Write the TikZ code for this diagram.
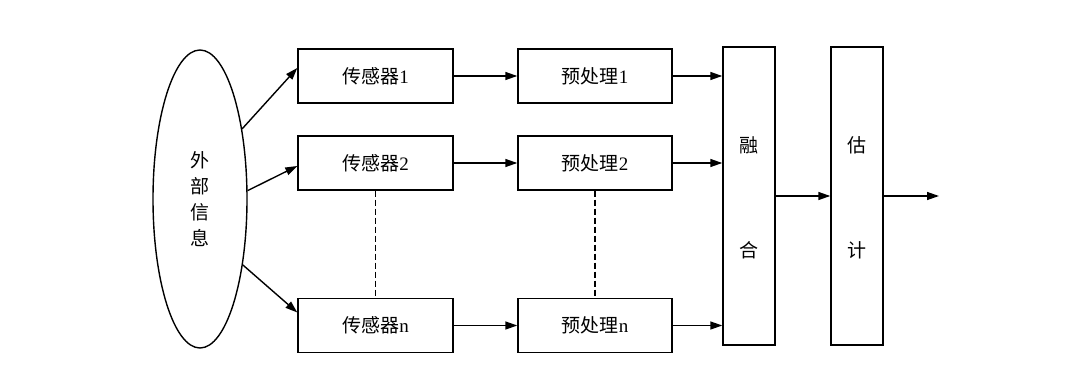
\documentclass[tikz,border=0pt]{standalone}
\usepackage{fontspec}
\setmainfont{Liberation Serif}
\newfontfamily\cjk{Noto Sans CJK SC}
\usetikzlibrary{shapes.geometric,arrows.meta}
\begin{document}
\begin{tikzpicture}[x=1pt,y=1pt,
  every node/.style={font=\fontsize{19}{22}\selectfont},
  blk/.style={draw,line width=1.4pt,minimum width=155pt,minimum height=54pt,inner sep=0pt},
  tall/.style={draw,line width=1.4pt,minimum width=52pt,minimum height=298pt,inner sep=0pt},
  arr/.style={line width=1.4pt,-{Triangle[length=12pt,width=8pt]}},
  dsh/.style={line width=1.2pt,dash pattern=on 6pt off 3pt}]
\useasboundingbox[fill=white] (0,0) rectangle (1080,381);
\node[draw,ellipse,line width=1.4pt,minimum width=94pt,minimum height=298pt,inner sep=0pt,align=center,
  font=\fontsize{19}{26}\selectfont\cjk] (ell) at (200,182) {外\\部\\信\\息};
\node[blk] (s1) at (375.5,305) {{\cjk 传感器}1};
\node[blk] (s2) at (375.5,218) {{\cjk 传感器}2};
\node[blk] (sn) at (375.5,55.5) {{\cjk 传感器}n};
\node[blk,minimum width=154pt] (p1) at (595,305) {{\cjk 预处理}1};
\node[blk,minimum width=154pt] (p2) at (595,218) {{\cjk 预处理}2};
\node[blk,minimum width=154pt] (pn) at (595,55.5) {{\cjk 预处理}n};
\node[tall] (fu) at (749,185) {};
\node[tall] (es) at (857,185) {};
\node[font=\fontsize{19}{22}\selectfont\cjk] (fu1) at ([yshift=51pt]fu.center) {融};
\node[font=\fontsize{19}{22}\selectfont\cjk] (fu2) at ([yshift=-54pt]fu.center) {合};
\node[font=\fontsize{19}{22}\selectfont\cjk] (es1) at ([yshift=51pt]es.center) {估};
\node[font=\fontsize{19}{22}\selectfont\cjk] (es2) at ([yshift=-54pt]es.center) {计};
\coordinate (out) at (939,185);
\draw[arr] (ell.59) -- ([yshift=8pt]s1.west);
\draw[arr] (ell.10) -- ([yshift=-3pt]s2.west);
\draw[arr] (ell.-57) -- ([yshift=13pt]sn.west);
\draw[arr] (s1) -- (p1);
\draw[arr] (s2) -- (p2);
\draw[arr] (sn) -- (pn);
\draw[arr] (p1.east) -- (fu.west |- p1.east);
\draw[arr] (p2.east) -- (fu.west |- p2.east);
\draw[arr] (pn.east) -- (fu.west |- pn.east);
\draw[arr] (fu) -- (es);
\draw[arr] (es.east) -- (out);
\draw[dsh] (s2.south) -- (sn.north);
\draw[dsh] (p2.south) -- (pn.north);
\end{tikzpicture}
\end{document}
